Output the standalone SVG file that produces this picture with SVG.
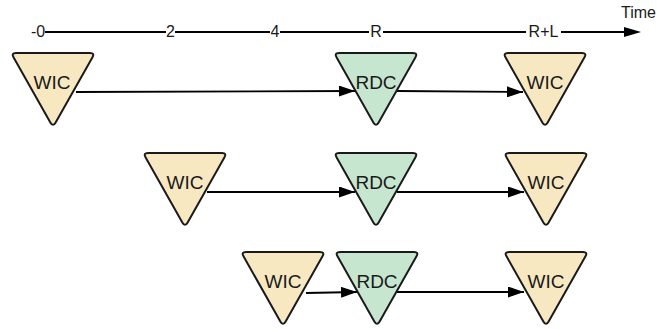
<svg xmlns="http://www.w3.org/2000/svg" width="657" height="329" viewBox="0 0 657 329">
  <defs>
    <marker id="arrow" viewBox="0 0 16 11" refX="16" refY="5.5" markerWidth="16" markerHeight="11" markerUnits="userSpaceOnUse" orient="auto">
      <path d="M0,0 L16,5.5 L0,11 Z" fill="#000"/>
    </marker>
    <!-- downward triangle with softened corners, 84 x 74 -->
    <path id="tri" d="M5,0 H79 Q84,0 81.5,4.35 L44.5,69.65 Q42,74 39.5,69.65 L2.5,4.35 Q0,0 5,0 Z"/>
    <style>
      .wic { fill: #f7e8c1; stroke: #1a1a1a; stroke-width: 2; stroke-linejoin: round; }
      .rdc { fill: #c6e6cf; stroke: #1a1a1a; stroke-width: 2; stroke-linejoin: round; }
      .lbl { font-family: "Liberation Sans", Arial, sans-serif; font-size: 19px; fill: #1a1a1a; text-anchor: middle; }
      .tick { font-family: "Liberation Sans", Arial, sans-serif; font-size: 16px; fill: #1a1a1a; text-anchor: middle; }
      .axis { fill: none; stroke: #000; stroke-width: 2; }
      .edge { fill: none; stroke: #000; stroke-width: 1.8; }
    </style>
  </defs>
  <rect width="657" height="329" fill="#fff"/>

  <!-- time axis -->
  <g id="axis">
    <path class="axis" d="M45,32 H166 M175,32 H270 M280,32 H369 M383,32 H526 M561,32 H626"/>
    <path d="M624,27 L641,32 L624,37 Z" fill="#000"/>
    <text class="tick" x="38" y="37">-0</text>
    <text class="tick" x="170.5" y="37">2</text>
    <text class="tick" x="275" y="37">4</text>
    <text class="tick" x="376" y="37">R</text>
    <text class="tick" x="543.5" y="37">R+L</text>
    <text class="tick" x="621" y="18" style="text-anchor:start">Time</text>
  </g>

  <!-- connectors -->
  <g id="connectors">
    <path class="edge" d="M76,92 L355,91" marker-end="url(#arrow)"/>
    <path class="edge" d="M397,91 L523,92" marker-end="url(#arrow)"/>
    <path class="edge" d="M207,192 L355,192" marker-end="url(#arrow)"/>
    <path class="edge" d="M397,192 L524,192" marker-end="url(#arrow)"/>
    <path class="edge" d="M306,293 L357,292" marker-end="url(#arrow)"/>
    <path class="edge" d="M397,292 L524,292" marker-end="url(#arrow)"/>
  </g>

  <!-- row 1 -->
  <g id="wic-1a">
    <use href="#tri" class="wic" x="11" y="53"/>
    <text class="lbl" x="52" y="89">WIC</text>
  </g>
  <g id="rdc-1">
    <use href="#tri" class="rdc" x="334" y="53"/>
    <text class="lbl" x="376" y="89">RDC</text>
  </g>
  <g id="wic-1b">
    <use href="#tri" class="wic" x="503" y="53"/>
    <text class="lbl" x="545" y="89">WIC</text>
  </g>

  <!-- row 2 -->
  <g id="wic-2a">
    <use href="#tri" class="wic" x="143" y="153"/>
    <text class="lbl" x="185" y="189">WIC</text>
  </g>
  <g id="rdc-2">
    <use href="#tri" class="rdc" x="334" y="153"/>
    <text class="lbl" x="376" y="189">RDC</text>
  </g>
  <g id="wic-2b">
    <use href="#tri" class="wic" x="504" y="153"/>
    <text class="lbl" x="546" y="189">WIC</text>
  </g>

  <!-- row 3 -->
  <g id="wic-3a">
    <use href="#tri" class="wic" x="241" y="252"/>
    <text class="lbl" x="283" y="288">WIC</text>
  </g>
  <g id="rdc-3">
    <use href="#tri" class="rdc" x="335" y="252"/>
    <text class="lbl" x="377" y="288">RDC</text>
  </g>
  <g id="wic-3b">
    <use href="#tri" class="wic" x="504" y="252"/>
    <text class="lbl" x="546" y="288">WIC</text>
  </g>
</svg>
